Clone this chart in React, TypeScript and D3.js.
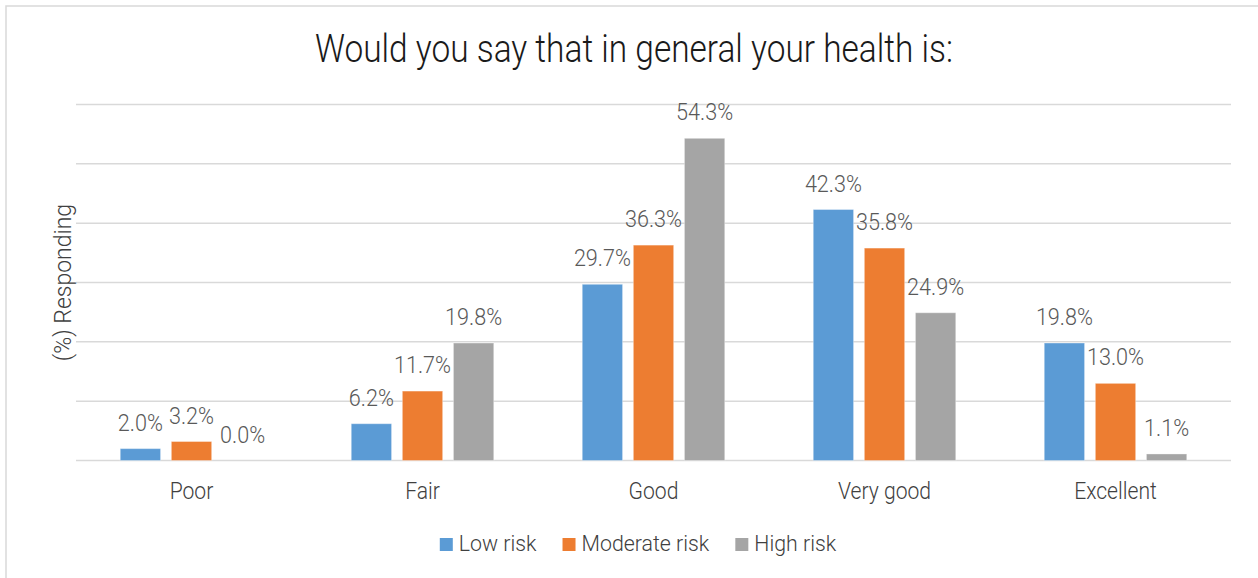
import * as d3 from "d3";
import { useEffect, useRef } from "react";

const categories = ["Poor", "Fair", "Good", "Very good", "Excellent"];
const seriesNames = ["Low risk", "Moderate risk", "High risk"];
const lowRisk = [2.0, 6.2, 29.7, 42.3, 19.8];
const moderateRisk = [3.2, 11.7, 36.3, 35.8, 13.0];
const highRisk = [0.0, 19.8, 54.3, 24.9, 1.1];
const yTicks = [0, 10, 20, 30, 40, 50, 60];

const colors = ["#5B9BD5", "#ED7D31", "#A5A5A5"];
const FONT = "Roboto, sans-serif";

export default function App() {
  const ref = useRef<SVGSVGElement>(null);

  useEffect(() => {
    if (!ref.current) return;
    const width = 1258;
    const height = 578;
    const svg = d3.select(ref.current);
    svg.selectAll("*").remove();
    svg.attr("width", width).attr("height", height);

    const series = [lowRisk, moderateRisk, highRisk];

    const x = d3.scaleBand<string>().domain(categories).range([76, 1231]);
    const xs = d3
      .scaleBand<string>()
      .domain(seriesNames)
      .range([-71.25, 71.25])
      .paddingInner(0.211);
    const y = d3.scaleLinear().domain([0, 60]).range([460.5, 104.5]);

    // text with a horizontal squeeze to fake the narrow face of the original
    const label = (
      parent: d3.Selection<any, any, any, any>,
      tx: number,
      ty: number,
      txt: string,
      size: number,
      fill: string,
      squeeze = 0.88,
      anchor = "middle",
      rotate = 0
    ) =>
      parent
        .append("text")
        .attr("transform", `translate(${tx},${ty}) rotate(${rotate}) scale(${squeeze},1)`)
        .attr("text-anchor", anchor)
        .attr("font-family", FONT)
        .attr("font-weight", 300)
        .attr("font-size", size)
        .attr("fill", fill)
        .text(txt);

    // outer frame
    svg
      .append("rect")
      .attr("x", 6)
      .attr("y", 6)
      .attr("width", width)
      .attr("height", height)
      .attr("fill", "#fff")
      .attr("stroke", "#D9D9D9")
      .attr("stroke-width", 1.5);

    // title
    label(svg, 634, 62, "Would you say that in general your health is:", 38, "#1a1a1a");

    // gridlines
    svg
      .append("g")
      .selectAll("line")
      .data(yTicks)
      .enter()
      .append("line")
      .attr("x1", 76)
      .attr("x2", 1231)
      .attr("y1", d => y(d))
      .attr("y2", d => y(d))
      .attr("stroke", "#D9D9D9")
      .attr("stroke-width", 1.5);

    // bars + labels
    series.forEach((vals, si) => {
      const g = svg.append("g");
      g.selectAll("rect")
        .data(vals)
        .enter()
        .append("rect")
        .attr("x", (_, i) => x(categories[i])! + x.bandwidth() / 2 + xs(seriesNames[si])!)
        .attr("y", d => y(d))
        .attr("width", xs.bandwidth())
        .attr("height", d => y(0) - y(d))
        .attr("fill", colors[si])
        .attr("stroke", "#fff")
        .attr("stroke-opacity", 0.35)
        .attr("stroke-width", 1);

      vals.forEach((v, i) => {
        const cx = x(categories[i])! + x.bandwidth() / 2 + xs(seriesNames[si])! + xs.bandwidth() / 2;
        label(g, cx, y(v) - 18, `${v.toFixed(1)}%`, 24, "#595959", 0.9);
      });
    });

    // category labels
    categories.forEach(c => {
      label(svg, x(c)! + x.bandwidth() / 2, 499, c, 24, "#404040");
    });

    // axis title
    label(svg, 71, 282.5, "(%) Responding", 23, "#404040", 1, "middle", -90);

    // legend
    const lg = svg.append("g");
    const sqz = 0.97;
    const items = seriesNames.map((name, i) => {
      const t = label(lg, 0, 550.5, name, 22, "#404040", sqz, "start");
      const w = (t.node() as SVGTextElement).getComputedTextLength() * sqz;
      return { t, w, i };
    });
    const sq = 13;
    const gapText = 6;
    const gapItem = 26;
    const total = d3.sum(items, d => sq + gapText + d.w) + gapItem * (items.length - 1);
    let cx = 638 - total / 2;
    items.forEach(({ t, w, i }) => {
      lg.append("rect")
        .attr("x", cx)
        .attr("y", 538)
        .attr("width", sq)
        .attr("height", sq)
        .attr("fill", colors[i]);
      t.attr("transform", `translate(${cx + sq + gapText},550.5) scale(${sqz},1)`);
      cx += sq + gapText + w + gapItem;
    });
  }, []);

  return (
    <svg
      ref={ref}
      style={{ position: "absolute", left: 0, top: 0, display: "block", background: "#fff" }}
    />
  );
}
